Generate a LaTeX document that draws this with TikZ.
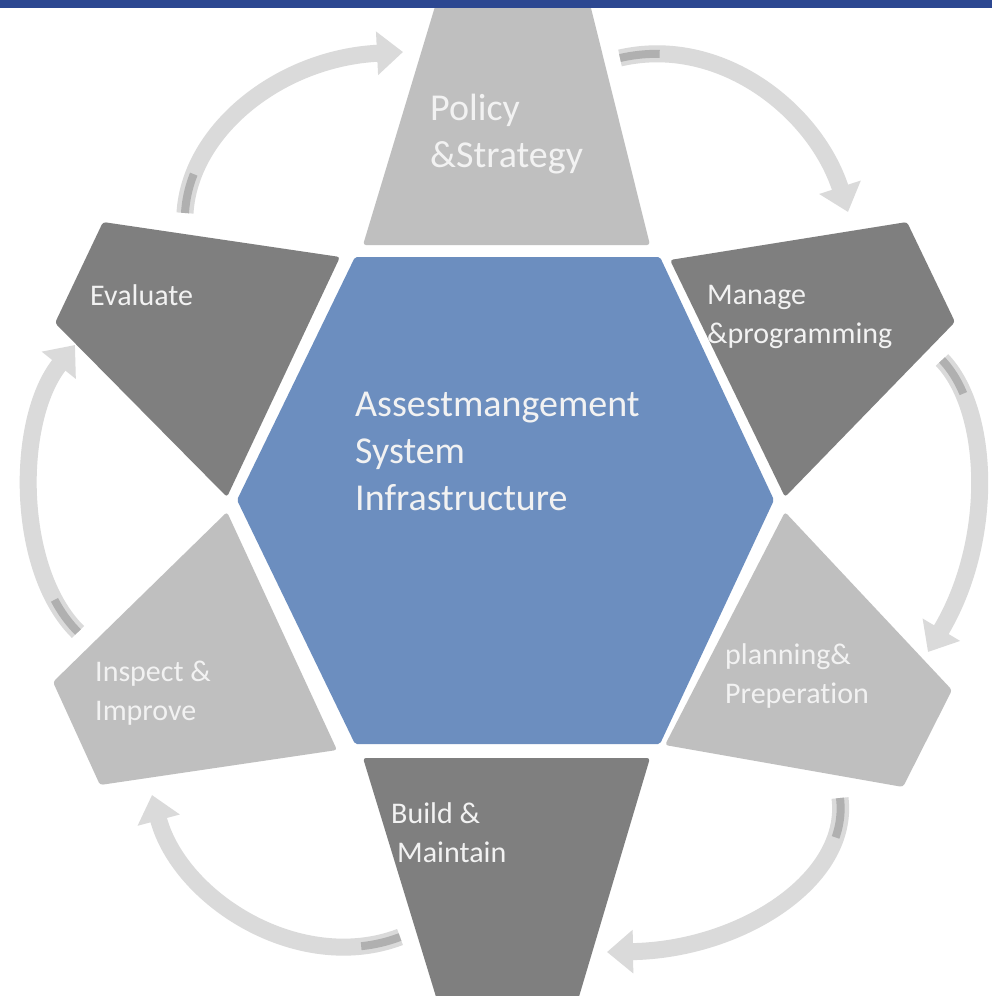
\documentclass[tikz,border=0pt]{standalone}
\usepackage{fontspec}
\setmainfont{Carlito}[Ligatures=NoCommon]
\usetikzlibrary{arrows.meta}
\definecolor{barblue}{RGB}{44,71,145}
\definecolor{hexblue}{RGB}{108,142,191}
\definecolor{lightg}{RGB}{191,191,191}
\definecolor{darkg}{RGB}{127,127,127}
\definecolor{arrowg}{RGB}{218,218,218}
\definecolor{arrowd}{RGB}{176,176,176}
\definecolor{txt}{RGB}{242,242,242}
\tikzset{
  lightshape/.style={fill=lightg, rounded corners=3pt},
  darkshape/.style={fill=darkg, rounded corners=3pt},
  hexshape/.style={fill=hexblue, rounded corners=2pt},
  lbl/.style={text=txt, inner sep=0pt, align=left, anchor=base west, font=\fontsize{30}{39}\selectfont},
  biglbl/.style={text=txt, inner sep=0pt, align=left, anchor=base west, font=\fontsize{38}{47}\selectfont},
  cyc/.style={draw=arrowg, line width=17pt, -{Triangle[width=42pt,length=26pt]}},
  cyctail/.style={draw=arrowd, line width=8pt, dash pattern=on 40pt off 2000pt}
}
\begin{document}
\begin{tikzpicture}[x=1pt,y=-1pt]
\useasboundingbox (0,0) rectangle (992,996);
\fill[white] (0,0) rectangle (992,996);

% outer segments
\fill[lightshape] (363,245) -- (443,-20) -- (584,-20) -- (650,245) -- cycle;
\fill[darkshape] (670,260) -- (907,222) -- (955,322) -- (785,497) -- cycle;
\fill[lightshape] (785,512) -- (952,690) -- (903,787) -- (665,745) -- cycle;
\fill[darkshape] (363,758) -- (650,758) -- (578,1000) -- (437,1000) -- cycle;
\fill[lightshape] (227,512) -- (337,750) -- (100,785) -- (53,682) -- cycle;
\fill[darkshape] (103,222) -- (340,257) -- (227,497) -- (55,323) -- cycle;

% centre hexagon
\fill[hexshape] (355,257) -- (660,257) -- (774,500) -- (660,744) -- (355,744) -- (237,500) -- cycle;

% arrow end points
\coordinate (a1s) at (185,213);  \coordinate (a1e) at (403,52);
\coordinate (a2s) at (620,58);   \coordinate (a2e) at (848,212);
\coordinate (a3s) at (942,360);  \coordinate (a3e) at (928,652);
\coordinate (a4s) at (840,798);  \coordinate (a4e) at (607,952);
\coordinate (a5s) at (400,937);  \coordinate (a5e) at (152,795);
\coordinate (a6s) at (78,632);   \coordinate (a6e) at (75,345);

% cycle arrows
\draw[cyc] (a1s) .. controls (190,130) and (280,58) .. (a1e);
\draw[cyctail] (a1s) .. controls (190,130) and (280,58) .. (a1e);
\draw[cyc] (a2s) .. controls (720,35) and (815,110) .. (a2e);
\draw[cyctail] (a2s) .. controls (720,35) and (815,110) .. (a2e);
\draw[cyc] (a3s) .. controls (990,410) and (995,540) .. (a3e);
\draw[cyctail] (a3s) .. controls (990,410) and (995,540) .. (a3e);
\draw[cyc] (a4s) .. controls (850,880) and (740,950) .. (a4e);
\draw[cyctail] (a4s) .. controls (850,880) and (740,950) .. (a4e);
\draw[cyc] (a5s) .. controls (300,975) and (180,900) .. (a5e);
\draw[cyctail] (a5s) .. controls (300,975) and (180,900) .. (a5e);
\draw[cyc] (a6s) .. controls (15,570) and (15,420) .. (a6e);
\draw[cyctail] (a6s) .. controls (15,570) and (15,420) .. (a6e);

% top bar
\fill[barblue] (0,0) rectangle (992,8);

% labels (anchor = baseline of the last line)
\node[biglbl] (policy) at (430,167) {Policy\\\&Strategy};
\node[lbl] (manage) at (707,343) {Manage\\\&programming};
\node[lbl] (planning) at (725,703) {planning\&\\Preperation};
\node[lbl] (build) at (391,862) {Build \&\\\hspace{6pt}Maintain};
\node[lbl] (inspect) at (95,720) {Inspect \&\\Improve};
\node[lbl] (evaluate) at (90,305) {Evaluate};
\node[biglbl] (centre) at (355,510) {Assestmangement\\System\\Infrastructure};
\end{tikzpicture}
\end{document}
